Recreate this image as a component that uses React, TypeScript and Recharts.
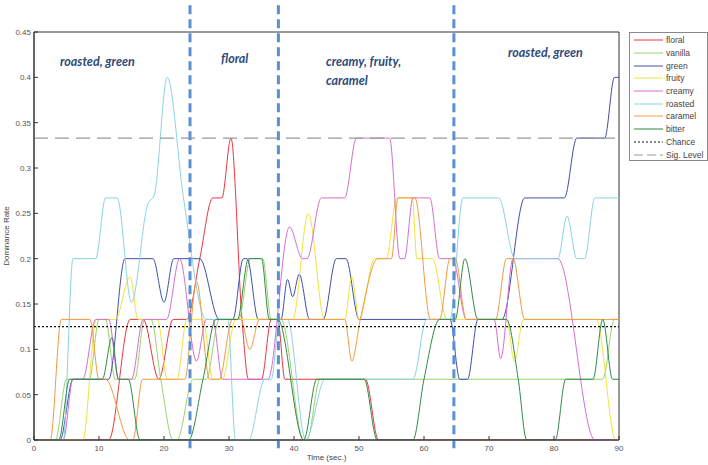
import { LineChart, Line, XAxis, YAxis, ReferenceLine, ReferenceArea } from 'recharts';

// [time (sec), dominance rate]
const floral = [[0,0],[11.5,0],[14.8,0.133],[16.8,0.133],[19.2,0.067],[21.4,0.133],[23.5,0.133],[25.5,0.2],[27.5,0.267],[28.9,0.267],[30.3,0.333],[32,0.133],[33,0.067],[35,0.067],[36.5,0.133],[37.5,0.133],[38.6,0.067],[51,0.067],[53,0],[90,0]];
const vanilla = [[0,0],[3.3,0],[5,0.067],[8.5,0.067],[10,0.133],[11,0.133],[12.5,0.067],[15.5,0.067],[17,0.133],[18,0.133],[19.5,0.067],[21.4,0],[22,0],[24.5,0.067],[26.5,0.067],[28.5,0.133],[31.5,0.133],[33.3,0.2],[35.2,0.2],[36.5,0.133],[38,0.133],[41.5,0],[42,0],[44,0.067],[87.5,0.067],[89.3,0.133],[90,0.133]];
const green = [[0,0],[4,0],[6,0.067],[11.5,0.067],[14,0.2],[18.3,0.2],[20,0.152],[21.5,0.2],[25.5,0.2],[28.5,0.133],[30.6,0.133],[32.2,0.2],[32.8,0.2],[34.5,0.133],[38,0.133],[39,0.177],[39.8,0.158],[40.8,0.183],[42.4,0.133],[44.5,0.133],[46.5,0.2],[48,0.2],[50,0.133],[64,0.133],[65.5,0.067],[66.7,0.067],[68.3,0.133],[72,0.133],[75.5,0.267],[81.6,0.267],[83.5,0.333],[87.8,0.333],[89.3,0.4],[90,0.4]];
const fruity = [[0,0],[7.5,0],[9.6,0.133],[12.5,0.133],[14.8,0.18],[16,0.133],[19,0.133],[20.5,0.067],[22,0.067],[23.5,0.133],[26,0.133],[27.5,0.067],[29,0.067],[31,0.133],[39.8,0.133],[42.2,0.25],[44.7,0.133],[47.8,0.133],[48.9,0.18],[50,0.133],[52.4,0.2],[54.2,0.2],[55.8,0.267],[58.2,0.267],[58.9,0.2],[61.3,0.2],[63.5,0.133],[72.7,0.133],[73.9,0.087],[75.3,0.133],[86.5,0.133],[89.5,0],[90,0]];
const creamy = [[0,0],[4.5,0],[6,0.067],[7.5,0.067],[9.5,0.133],[11.5,0.133],[13,0.067],[15,0.067],[16.8,0.133],[20.4,0.133],[22.4,0.2],[25,0.087],[26.5,0.133],[27.5,0.133],[29,0.067],[36,0.067],[39.3,0.235],[41.3,0.2],[42,0.2],[44.2,0.267],[47.8,0.267],[49.6,0.333],[54.7,0.333],[56.3,0.2],[57,0.2],[58.3,0.267],[60.9,0.267],[62.4,0.2],[64.4,0.2],[66.5,0.133],[70.8,0.133],[71.8,0.09],[73.7,0.2],[80.6,0.2],[86.3,0],[90,0]];
const roasted = [[0,0],[4.5,0],[6,0.2],[9.5,0.2],[11,0.267],[12.8,0.267],[15,0.152],[17.5,0.26],[18.5,0.27],[20.5,0.4],[23,0.267],[26.5,0.133],[29.8,0.133],[31,0],[33,0],[35.5,0.067],[36.5,0.067],[37.8,0.133],[39,0.133],[41.8,0],[44.8,0.067],[58.3,0.067],[60.4,0.133],[64,0.133],[66,0.267],[71.5,0.267],[74,0.2],[80.6,0.2],[82,0.247],[83.5,0.2],[84.7,0.2],[86.3,0.267],[90,0.267]];
const caramel = [[0,0],[2.5,0],[4.2,0.133],[8.6,0.133],[10,0.067],[11,0.067],[14.7,0],[15.2,0],[16.7,0.067],[23.2,0.067],[25,0.175],[27,0.067],[28.5,0.067],[30.5,0.133],[31.8,0.133],[33.2,0.1],[34.7,0.133],[47.8,0.133],[48.9,0.087],[50.2,0.133],[52.9,0.2],[55,0.2],[56,0.267],[58.6,0.267],[61,0.133],[62.4,0.133],[64,0.2],[64.8,0.2],[66.5,0.133],[71,0.133],[72.7,0.2],[73.7,0.2],[75.5,0.133],[90,0.133]];
const bitter = [[0,0],[3.8,0],[5.5,0.067],[10.5,0.067],[12,0.113],[13,0.067],[14.5,0.067],[16.3,0],[23.8,0],[26,0.067],[28,0.133],[31.3,0.133],[33,0.2],[35,0.2],[36.2,0.133],[37.5,0.133],[41.5,0],[43.5,0.067],[50.8,0.067],[52.8,0],[58.3,0],[60,0.067],[62.4,0.133],[64.8,0.133],[66.3,0.2],[68.3,0.133],[72.7,0.133],[74.5,0.067],[75.8,0],[80.2,0],[81.8,0.067],[86,0.067],[87.5,0.133],[89,0.067],[90,0.067]];

const seriesNames = ['floral', 'vanilla', 'green', 'fruity', 'creamy', 'roasted', 'caramel', 'bitter'];
const seriesData = [floral, vanilla, green, fruity, creamy, roasted, caramel, bitter];
const seriesColors = ['#e8373f', '#9ad26a', '#3f4fa8', '#f2e33a', '#d56fd0', '#8ad3e3', '#f09a40', '#2f8a46'];

const xTicks = [0, 10, 20, 30, 40, 50, 60, 70, 80, 90];
const yTicks = [0, 0.05, 0.1, 0.15, 0.2, 0.25, 0.3, 0.35, 0.4, 0.45];
const phaseBounds = [24, 37.6, 64.6];
const chanceLevel = 0.125;
const sigLevel = 0.333;
const phaseLabels = [
  { text: ['roasted, green'], left: 60, top: 52 },
  { text: ['floral'], left: 221, top: 49 },
  { text: ['creamy, fruity,', 'caramel'], left: 326, top: 52 },
  { text: ['roasted, green'], left: 508, top: 43 },
];

const toPts = (a: number[][]) => a.map(([t, v]) => ({ t, v }));
const tickStyle = { fill: '#555', fontSize: 8, fontFamily: 'Liberation Sans, Arial' };

export default function App() {
  const legendItems = [
    ...seriesNames.map((n, i) => ({ n, c: seriesColors[i], d: '' })),
    { n: 'Chance', c: '#111', d: '2 2' },
    { n: 'Sig. Level', c: '#999', d: '9 4' },
  ];
  return (
    <div style={{ position: 'relative', width: 708, height: 465, background: '#fff', fontFamily: 'Liberation Sans, Arial' }}>
      <style>{'body{margin:0}'}</style>
      <LineChart width={708} height={465} margin={{ top: 32, right: 89, bottom: 0, left: 0 }}>
        <XAxis xAxisId="b" dataKey="t" type="number" domain={[0, 90]} ticks={xTicks} allowDataOverflow
          tick={tickStyle} tickSize={-4} tickMargin={9} height={25} stroke="#333"
          label={{ value: 'Time (sec.)', position: 'insideBottom', offset: 5, fill: '#444', fontSize: 8 }} />
        <XAxis xAxisId="top" orientation="top" dataKey="t" type="number" domain={[0, 90]} ticks={xTicks}
          tickFormatter={() => ''} tickSize={-4} height={0} stroke="#333" />
        <YAxis yAxisId="l" type="number" domain={[0, 0.45]} ticks={yTicks} allowDataOverflow
          tick={tickStyle} tickSize={-4} tickMargin={7} width={34} stroke="#333"
          label={{ value: 'Dominance Rate', angle: -90, position: 'insideLeft', offset: 6, fill: '#444', fontSize: 8, style: { textAnchor: 'middle' } }} />
        <YAxis yAxisId="r" orientation="right" type="number" domain={[0, 0.45]} ticks={yTicks}
          tickFormatter={() => ''} tickSize={-4} width={0} stroke="#333" />
        <ReferenceArea xAxisId="b" yAxisId="l" x1={0} x2={90} y1={0} y2={0.45} fill="none" stroke="#333" strokeWidth={1} />
        {seriesNames.map((name, i) => (
          <Line key={name} xAxisId="b" yAxisId="l" data={toPts(seriesData[i])} dataKey="v" name={name}
            type="monotone" stroke={seriesColors[i]} strokeWidth={1} dot={false} isAnimationActive={false} />
        ))}
        <ReferenceLine xAxisId="b" yAxisId="l" y={chanceLevel} stroke="#111" strokeDasharray="2 2" strokeWidth={1.2} />
        <ReferenceLine xAxisId="b" yAxisId="l" y={sigLevel} stroke="#999" strokeDasharray="14 7" strokeWidth={1.2} />
        {phaseBounds.map((x) => (
          <ReferenceLine key={x} xAxisId="b" yAxisId="l" ifOverflow="visible"
            segment={[{ x, y: -0.009 }, { x, y: 0.485 }]}
            stroke="#5b8fd0" strokeWidth={3} strokeDasharray="9 5" />
        ))}
      </LineChart>
      {phaseLabels.map((p, i) => (
        <div key={i} style={{ position: 'absolute', left: p.left, top: p.top, color: '#2e4a7a', fontFamily: 'Lato', fontWeight: 700, fontStyle: 'italic', fontSize: 12.5, lineHeight: '19px', whiteSpace: 'nowrap' }}>
          {p.text.map((s) => <div key={s}>{s}</div>)}
        </div>
      ))}
      <div style={{ position: 'absolute', left: 629, top: 32, width: 79, height: 129, border: '1px solid #888', boxSizing: 'border-box', background: '#fff', paddingTop: 1 }}>
        {legendItems.map((e) => (
          <div key={e.n} style={{ display: 'flex', alignItems: 'center', height: 12.7, whiteSpace: 'nowrap' }}>
            <svg width={30} height={6} style={{ marginLeft: 4, marginRight: 2 }}>
              <line x1={0} y1={3} x2={29} y2={3} stroke={e.c} strokeWidth={1} strokeDasharray={e.d || undefined} />
            </svg>
            <span style={{ fontSize: 8.5, color: '#444' }}>{e.n}</span>
          </div>
        ))}
      </div>
    </div>
  );
}
